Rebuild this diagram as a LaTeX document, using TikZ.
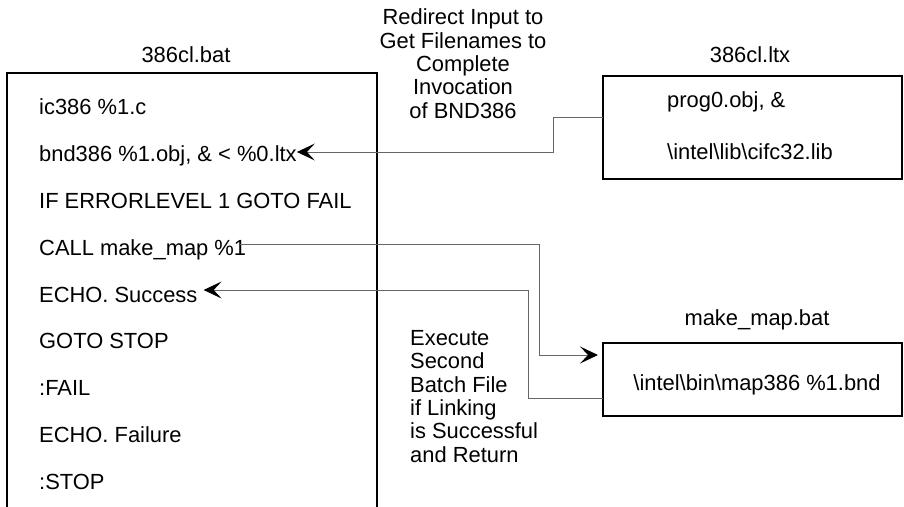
\documentclass[tikz,border=0pt]{standalone}
\usepackage{fontspec}
\setmainfont{Liberation Sans}
\usetikzlibrary{arrows.meta,calc}
\begin{document}
\begin{tikzpicture}[x=1pt,y=-1pt,
  txt/.style={font=\fontsize{21.9}{23.3}\selectfont, inner sep=0pt, anchor=base west},
  ttl/.style={font=\fontsize{21.9}{23.3}\selectfont, inner sep=0pt, anchor=base},
  note/.style={font=\fontsize{21.9}{23.3}\selectfont, inner sep=0pt, anchor=base},
  filebox/.style={draw=black, line width=1.2pt, inner sep=0pt, outer sep=0pt, anchor=north west},
  conn/.style={draw=black!60, line width=1pt},
  tip/.style={-{Stealth[length=18pt,width=17pt,inset=8pt,color=black]}}
]
\useasboundingbox (0,0) rectangle (904,506);
\clip (0,0) rectangle (904,506);

% boxes
\node[filebox, minimum width=370pt, minimum height=470pt] (bat) at (7,73) {};
\node[filebox, minimum width=299pt, minimum height=103pt] (ltx) at (603,76) {};
\node[filebox, minimum width=299pt, minimum height=73pt] (map) at (603,343) {};

% titles
\node[ttl] (batt) at (186,62) {386cl.bat};
\node[ttl] (ltxt) at (750,62) {386cl.ltx};
\node[ttl] (mapt) at (757,325) {make\_map.bat};

% 386cl.bat lines
\node[txt] (l1) at (39,114) {ic386 \%1.c};
\node[txt] (l2) at (39,161) {bnd386 \%1.obj, \& < \%0.ltx};
\node[txt] (l3) at (39,208) {IF ERRORLEVEL 1 GOTO FAIL};
\node[txt] (l4) at (39,255) {CALL make\_map \%1};
\node[txt] (l5) at (39,302) {ECHO. Success};
\node[txt] (l6) at (39,348) {GOTO STOP};
\node[txt] (l7) at (39,395) {:FAIL};
\node[txt] (l8) at (39,442) {ECHO. Failure};
\node[txt] (l9) at (39,489) {:STOP};

% 386cl.ltx lines
\node[txt] (x1) at (667,107) {prog0.obj, \&};
\node[txt] (x2) at (667,159) {\textbackslash intel\textbackslash lib\textbackslash cifc32.lib};

% make_map.bat line
\node[ttl] (m1) at (757,390) {\textbackslash intel\textbackslash bin\textbackslash map386 \%1.bnd};

% annotations (base anchor = last line's baseline)
\node[note, align=center] (redir) at (463,118) {Redirect Input to\\Get Filenames to\\Complete\\Invocation\\of BND386};
\node[txt, align=left] (exec) at (410,462) {Execute\\Second\\Batch File\\if Linking\\is Successful\\and Return};

% connectors
\draw[conn, tip] ($(ltx.north west)+(0,41)$) -| (553,152) -- (l2.east |- 0,152);
\draw[conn, tip, shorten >=5pt] ($(l4.east |- 0,244)+(-6,0)$) -| (539,355) -- (map.west |- 0,355);
\draw[conn, tip] ($(map.north west)+(0,55)$) -| (528,290) -- ($(l5.east |- 0,290)+(6,0)$);
\end{tikzpicture}
\end{document}
